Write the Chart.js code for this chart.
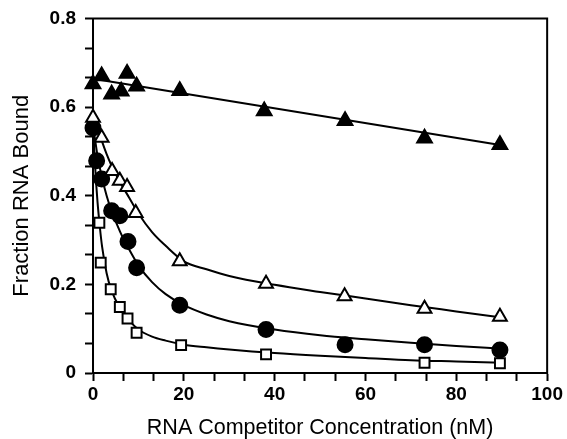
<!DOCTYPE html>
<html>
<head>
<meta charset="utf-8">
<script src="https://cdn.jsdelivr.net/npm/chart.js@4.4.1/dist/chart.umd.min.js"></script>
<style>
  html, body { margin: 0; padding: 0; background: #fff; }
  #wrap { width: 567px; height: 439px; }
</style>
</head>
<body>
<div id="wrap"><canvas id="myChart"></canvas></div>
<script>
// measured points (x = nM competitor, y = fraction bound)
const filledTriX = [0, 1.9, 4.1, 6.2, 7.5, 9.6, 19.1, 37.7, 55.5, 73, 89.6];
const filledTriY = [0.652, 0.67, 0.629, 0.636, 0.676, 0.647, 0.637, 0.591, 0.569, 0.53, 0.515];

const openTriX = [0, 1.9, 4.2, 5.9, 7.5, 9.4, 19.1, 38.1, 55.4, 73, 89.6];
const openTriY = [0.576, 0.531, 0.456, 0.434, 0.42, 0.361, 0.252, 0.2015, 0.173, 0.145, 0.127];

const circleX = [0, 0.8, 1.9, 4.1, 5.9, 7.7, 9.6, 19.1, 38.1, 55.5, 73, 89.6];
const circleY = [0.553, 0.479, 0.438, 0.366, 0.355, 0.297, 0.2375, 0.153, 0.098, 0.064, 0.064, 0.052];

const squareX = [1.4, 1.7, 3.9, 5.9, 7.6, 9.6, 19.4, 38.1, 73, 89.6];
const squareY = [0.339, 0.249, 0.189, 0.149, 0.123, 0.091, 0.063, 0.042, 0.023, 0.022];

// fitted curves
const filledTriFitX = [0, 90];
const filledTriFitY = [0.664, 0.514];

const fitX = [0, 1, 2, 3, 4, 6, 8, 10, 13, 16, 20, 25, 30, 40, 50, 60, 70, 80, 90];
const openTriFitY = [0.59, 0.555, 0.522, 0.494, 0.47, 0.43, 0.395, 0.36, 0.318, 0.287, 0.252, 0.234, 0.219, 0.199, 0.183, 0.168, 0.153, 0.139, 0.125];
const circleFitY = [0.56, 0.49, 0.44, 0.40, 0.368, 0.318, 0.278, 0.243, 0.205, 0.178, 0.153, 0.132, 0.117, 0.098, 0.085, 0.076, 0.068, 0.061, 0.055];

const squareFitX = [0, 0.5, 1, 1.5, 2, 3, 4, 6, 8, 10, 13, 16, 20, 25, 30, 40, 50, 60, 70, 80, 90];
const squareFitY = [0.56, 0.46, 0.385, 0.33, 0.285, 0.225, 0.188, 0.145, 0.118, 0.098, 0.082, 0.073, 0.064, 0.058, 0.053, 0.045, 0.039, 0.034, 0.029, 0.026, 0.023];

// axis ticks: labelled majors, two unlabelled minors between each pair
const xMajorTicks = [0, 20, 40, 60, 80, 100];
const yMajorTicks = [0, 0.2, 0.4, 0.6, 0.8];
const minorPerMajor = 3;

const pts = (xs, ys) => xs.map((x, i) => ({x: x, y: ys[i]}));
const isMajor = (majors, v) => majors.some(m => Math.abs(m - v) < 1e-6);

const markerSet = (label, data, style, radius, fill) => ({
    type: 'scatter',
    label: label,
    data: data,
    showLine: false,
    pointStyle: style,
    pointRadius: radius,
    pointHoverRadius: radius,
    pointBorderWidth: 2,
    pointBackgroundColor: fill,
    pointBorderColor: '#000',
    clip: 12,
    order: 0
});

const fitSet = (label, data) => ({
    type: 'line',
    label: label,
    data: data,
    showLine: true,
    borderColor: '#000',
    borderWidth: 2,
    pointRadius: 0,
    cubicInterpolationMode: 'monotone',
    fill: false,
    clip: 12,
    order: 1
});

// top and right sides of the box
const framePlugin = {
    id: 'plotFrame',
    beforeDatasetsDraw(chart) {
        const {ctx, chartArea} = chart;
        ctx.save();
        ctx.strokeStyle = '#000';
        ctx.lineWidth = 2;
        ctx.strokeRect(chartArea.left, chartArea.top, chartArea.right - chartArea.left, chartArea.bottom - chartArea.top);
        ctx.restore();
    }
};

const tickGrid = {display: true, drawOnChartArea: false, drawTicks: true, tickLength: 8, tickWidth: 2, tickColor: '#000'};

Chart.defaults.font.family = "'Liberation Sans', Arial, sans-serif";
Chart.defaults.color = '#000';

new Chart(document.getElementById('myChart'), {
    type: 'scatter',
    data: {
        datasets: [
            markerSet('filled triangles', pts(filledTriX, filledTriY), 'triangle', 8.5, '#000'),
            markerSet('open triangles', pts(openTriX, openTriY), 'triangle', 8, '#fff'),
            markerSet('circles', pts(circleX, circleY), 'circle', 7.5, '#000'),
            markerSet('squares', pts(squareX, squareY), 'rect', 7, '#fff'),
            fitSet('filled triangle fit', pts(filledTriFitX, filledTriFitY)),
            fitSet('open triangle fit', pts(fitX, openTriFitY)),
            fitSet('circle fit', pts(fitX, circleFitY)),
            fitSet('square fit', pts(squareFitX, squareFitY))
        ]
    },
    options: {
        responsive: true,
        maintainAspectRatio: false,
        animation: false,
        layout: {padding: {top: 17, right: 19, left: 0, bottom: 0}},
        plugins: {legend: {display: false}, tooltip: {enabled: false}},
        scales: {
            x: {
                type: 'linear',
                position: 'bottom',
                min: xMajorTicks[0],
                max: xMajorTicks[xMajorTicks.length - 1],
                ticks: {
                    stepSize: (xMajorTicks[1] - xMajorTicks[0]) / minorPerMajor,
                    maxTicksLimit: 100,
                    autoSkip: false,
                    maxRotation: 0,
                    padding: 4,
                    font: {size: 19, weight: 'bold', lineHeight: 1},
                    callback: v => isMajor(xMajorTicks, v) ? String(Math.round(v)) : ''
                },
                grid: tickGrid,
                border: {color: '#000', width: 2},
                title: {
                    display: true,
                    text: 'RNA Competitor Concentration (nM)',
                    font: {size: 21.5, lineHeight: 1},
                    padding: {top: 9.5, bottom: 0}
                }
            },
            y: {
                type: 'linear',
                position: 'left',
                min: yMajorTicks[0],
                max: yMajorTicks[yMajorTicks.length - 1],
                ticks: {
                    stepSize: (yMajorTicks[1] - yMajorTicks[0]) / minorPerMajor,
                    maxTicksLimit: 100,
                    autoSkip: false,
                    padding: 9,
                    font: {size: 19, weight: 'bold', lineHeight: 1},
                    callback: v => isMajor(yMajorTicks, v) ? (Math.abs(v) < 1e-6 ? '0' : v.toFixed(1)) : ''
                },
                grid: tickGrid,
                border: {color: '#000', width: 2},
                title: {
                    display: true,
                    text: 'Fraction RNA Bound',
                    font: {size: 22, lineHeight: 1},
                    padding: {top: 11, bottom: 7.6}
                }
            }
        }
    },
    plugins: [framePlugin]
});
</script>
</body>
</html>
